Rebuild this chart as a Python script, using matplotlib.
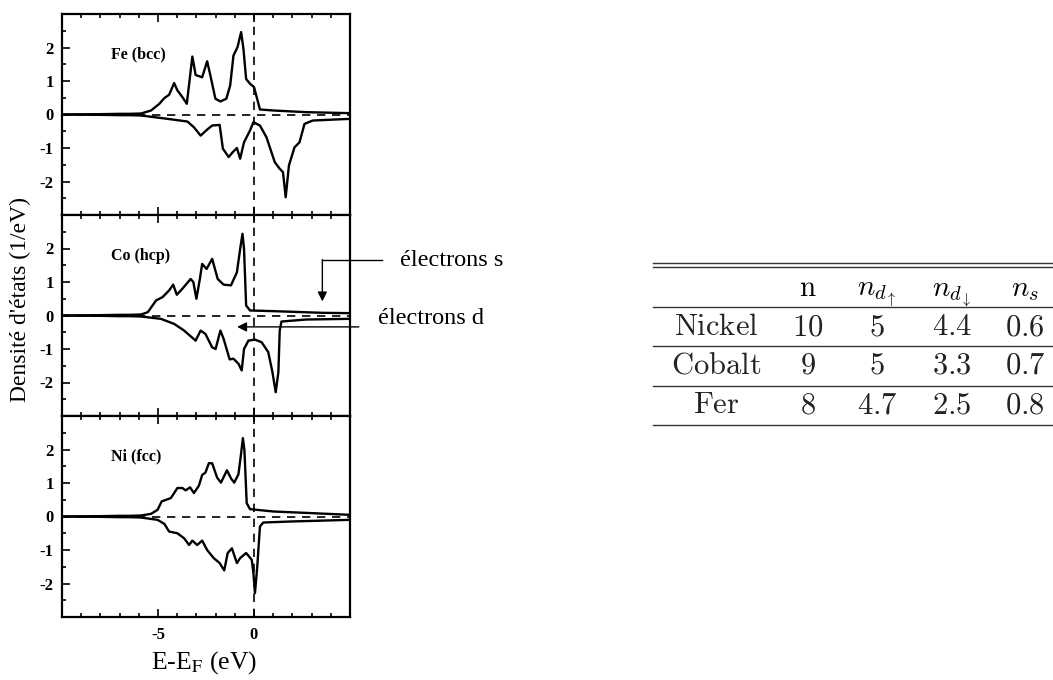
import matplotlib.pyplot as plt
from matplotlib.ticker import MultipleLocator, FixedLocator

plt.rcParams['font.family'] = ['Liberation Serif', 'DejaVu Serif']
plt.rcParams['axes.unicode_minus'] = False

# ------------------------------------------------------------
# Densité d'états, spin up / spin down
# ------------------------------------------------------------
fe_up_e = [-10, -8, -7, -6.5, -5.88, -5.36, -4.93, -4.67, -4.42, -4.16, -3.99, -3.73, -3.5,
           -3.21, -3.04, -2.7, -2.44, -2.27, -2.01, -1.75, -1.44, -1.24, -1.07, -0.86, -0.67,
           -0.55, -0.41, -0.21, 0.0, 0.14, 0.31, 1.0, 2.71, 5.0]
fe_up = [0.0, 0.01, 0.02, 0.02, 0.03, 0.12, 0.32, 0.49, 0.59, 0.94, 0.72, 0.52, 0.32,
         1.73, 1.18, 1.11, 1.59, 1.16, 0.47, 0.39, 0.47, 0.87, 1.76, 2.01, 2.46,
         1.96, 1.06, 0.92, 0.82, 0.52, 0.15, 0.12, 0.07, 0.04]
fe_dn_e = [-10, -8, -7, -6.5, -5.88, -4.5, -3.47, -3.13, -2.78, -2.44, -2.18, -1.79, -1.62,
           -1.32, -1.1, -0.89, -0.72, -0.52, -0.21, -0.03, 0.31, 0.65, 1.08, 1.34, 1.51,
           1.65, 1.82, 2.11, 2.37, 2.63, 3.06, 5.0]
fe_dn = [0.0, -0.01, -0.02, -0.02, -0.03, -0.13, -0.21, -0.38, -0.63, -0.45, -0.33, -0.31, -1.02,
         -1.27, -1.12, -1.0, -1.32, -0.83, -0.48, -0.23, -0.33, -0.68, -1.42, -1.62, -1.72,
         -2.47, -1.52, -0.98, -0.83, -0.28, -0.18, -0.13]

co_up_e = [-10, -8, -7, -6.5, -5.88, -5.53, -5.1, -4.76, -4.42, -4.21, -4.02, -3.73, -3.3,
           -3.16, -3.0, -2.82, -2.7, -2.47, -2.18, -1.89, -1.58, -1.2, -0.89, -0.72, -0.6,
           -0.52, -0.41, -0.21, 1.0, 3.57, 5.0]
co_up = [0.0, 0.01, 0.02, 0.02, 0.03, 0.1, 0.45, 0.55, 0.75, 0.92, 0.62, 0.8, 1.09,
         1.0, 0.5, 1.09, 1.54, 1.39, 1.69, 1.09, 0.92, 0.9, 1.29, 1.99, 2.44,
         1.99, 0.3, 0.15, 0.13, 0.08, 0.07]
co_dn_e = [-10, -8, -7, -6.5, -5.88, -4.85, -4.16, -3.64, -3.04, -2.78, -2.53, -2.18, -2.0,
           -1.75, -1.58, -1.27, -1.07, -0.81, -0.64, -0.52, -0.29, 0.05, 0.4, 0.74, 0.96,
           1.13, 1.27, 1.34, 1.43, 2.71, 5.0]
co_dn = [0.0, -0.01, -0.02, -0.02, -0.03, -0.1, -0.25, -0.45, -0.75, -0.45, -0.55, -0.95, -1.0,
         -0.45, -0.7, -1.31, -1.29, -1.44, -1.64, -1.0, -0.75, -0.72, -0.8, -1.09, -1.69,
         -2.29, -1.69, -0.45, -0.18, -0.12, -0.1]

ni_up_e = [-10, -8, -7, -6.5, -5.88, -5.36, -5.02, -4.81, -4.33, -3.99, -3.73, -3.56, -3.33,
           -3.13, -2.87, -2.7, -2.53, -2.35, -2.18, -1.92, -1.72, -1.41, -1.2, -1.03, -0.81,
           -0.67, -0.58, -0.5, -0.38, -0.21, 1.0, 5.0]
ni_up = [0.0, 0.01, 0.02, 0.02, 0.03, 0.08, 0.2, 0.45, 0.55, 0.85, 0.85, 0.78, 0.87,
         0.7, 0.92, 1.24, 1.31, 1.59, 1.59, 1.16, 1.01, 1.38, 1.14, 1.01, 1.26,
         1.89, 2.34, 1.99, 0.4, 0.22, 0.15, 0.05]
ni_dn_e = [-10, -8, -7, -6.5, -5.88, -5.02, -4.67, -4.42, -3.99, -3.64, -3.38, -3.21, -2.96,
           -2.7, -2.44, -2.1, -1.79, -1.55, -1.37, -1.15, -0.89, -0.72, -0.41, -0.12, -0.03,
           0.05, 0.17, 0.31, 0.48, 1.86, 5.0]
ni_dn = [0.0, -0.01, -0.02, -0.02, -0.03, -0.1, -0.22, -0.45, -0.5, -0.65, -0.85, -0.72, -0.85,
         -0.72, -1.0, -1.24, -1.39, -1.61, -1.09, -0.95, -1.39, -1.24, -1.09, -1.29, -1.69,
         -2.29, -1.49, -0.3, -0.18, -0.15, -0.1]

panel_names = ['Fe (bcc)', 'Co (hcp)', 'Ni (fcc)']

# ------------------------------------------------------------
# Tableau : nombre d'électrons
# ------------------------------------------------------------
col_headers = ['', r'$\mathrm{n}$', r'$n_{d_\uparrow}$', r'$n_{d_\downarrow}$', r'$n_s$']
row_names = ['Nickel', 'Cobalt', 'Fer']
n_tot = ['10', '9', '8']
n_d_up = ['5', '5', '4.7']
n_d_dn = ['4.4', '3.3', '2.5']
n_s = ['0.6', '0.7', '0.8']

W, H = 1053, 680
fig = plt.figure(figsize=(W / 100, H / 100), dpi=100)
axes = fig.subplots(3, 1, sharex=True)
fig.subplots_adjust(left=62 / W, right=350 / W, top=1 - 14 / H, bottom=1 - 617 / H, hspace=0)

curves = [(fe_up_e, fe_up, fe_dn_e, fe_dn),
          (co_up_e, co_up, co_dn_e, co_dn),
          (ni_up_e, ni_up, ni_dn_e, ni_dn)]

for ax, (ue, u, de, d), name in zip(axes, curves, panel_names):
    ax.plot(ue, u, color='black', lw=1.7, solid_joinstyle='round')
    ax.plot(de, d, color='black', lw=1.7, solid_joinstyle='round')
    ax.axhline(0, color='black', lw=1.2, ls=(0, (5, 4)))
    ax.axvline(0, color='black', lw=1.2, ls=(0, (5, 4)))
    ax.set_xlim(-10, 5)
    ax.set_ylim(-3, 3)
    ax.xaxis.set_major_locator(FixedLocator([-5, 0]))
    ax.xaxis.set_minor_locator(MultipleLocator(1))
    ax.yaxis.set_major_locator(FixedLocator([-2, -1, 0, 1, 2]))
    ax.yaxis.set_minor_locator(MultipleLocator(0.5))
    ax.tick_params(which='both', direction='in', top=True, right=False, width=1.2)
    ax.tick_params(which='major', length=6)
    ax.tick_params(which='minor', length=3)
    ax.tick_params(axis='y', labelsize=12, pad=6)
    ax.tick_params(axis='x', labelsize=12, pad=7)
    for lab in ax.get_xticklabels() + ax.get_yticklabels():
        lab.set_fontweight('bold')
    for s in ax.spines.values():
        s.set_linewidth(1.6)
    ax.text(-7.45, 1.78, name, fontsize=11.5, fontweight='bold', va='center', ha='left')

fig.text(20 / W, 1 - 299 / H, "Densité d'états (1/eV)", rotation=90,
         ha='center', va='center', fontsize=17)
fig.text(204 / W, 1 - 663 / H, r'E-E$_\mathrm{F}$ (eV)', ha='center', va='center',
         fontsize=18.5, math_fontfamily='stix')

# flèches électrons s / d (panneau Co)
ax2 = axes[1]
ax2.plot([6.65, 3.56], [1.67, 1.67], color='black', lw=1.0, clip_on=False)
ax2.annotate('', xy=(3.56, 0.42), xytext=(3.56, 1.67),
             arrowprops=dict(arrowstyle='-|>', color='black', lw=1.0,
                             mutation_scale=14, shrinkA=0, shrinkB=0),
             annotation_clip=False)
ax2.annotate('', xy=(-0.88, -0.34), xytext=(5.46, -0.34),
             arrowprops=dict(arrowstyle='-|>', color='black', lw=1.0,
                             mutation_scale=14, shrinkA=0, shrinkB=0),
             annotation_clip=False)
fig.text(400 / W, 1 - 260 / H, 'électrons s', fontsize=17.5, ha='left', va='center')
fig.text(378 / W, 1 - 319 / H, 'électrons d', fontsize=17.5, ha='left', va='center')

# ------------------------------------------------------------
# Tableau dessiné en coordonnées pixels
# ------------------------------------------------------------
tab = fig.add_axes([0, 0, 1, 1])
tab.set_xlim(0, W)
tab.set_ylim(H, 0)
tab.axis('off')

col_x = [716, 808, 877, 952, 1025]
row_base = [296, 335, 374, 413]
rules = [263, 267, 307, 346, 386, 425]
for y in rules:
    tab.plot([653, W], [y, y], color='#333333', lw=1.0)

for x, h in zip(col_x, col_headers):
    if h:
        tab.text(x, row_base[0], h, fontsize=21, ha='center', va='baseline',
                 math_fontfamily='cm')

table_cols = [row_names, n_tot, n_d_up, n_d_dn, n_s]
for x, vals in zip(col_x, table_cols):
    for y, v in zip(row_base[1:], vals):
        tab.text(x, y, r'$\mathrm{' + v + '}$', fontsize=22, ha='center', va='baseline',
                 math_fontfamily='cm', color='#222222')

plt.savefig('out.png', dpi=100)
